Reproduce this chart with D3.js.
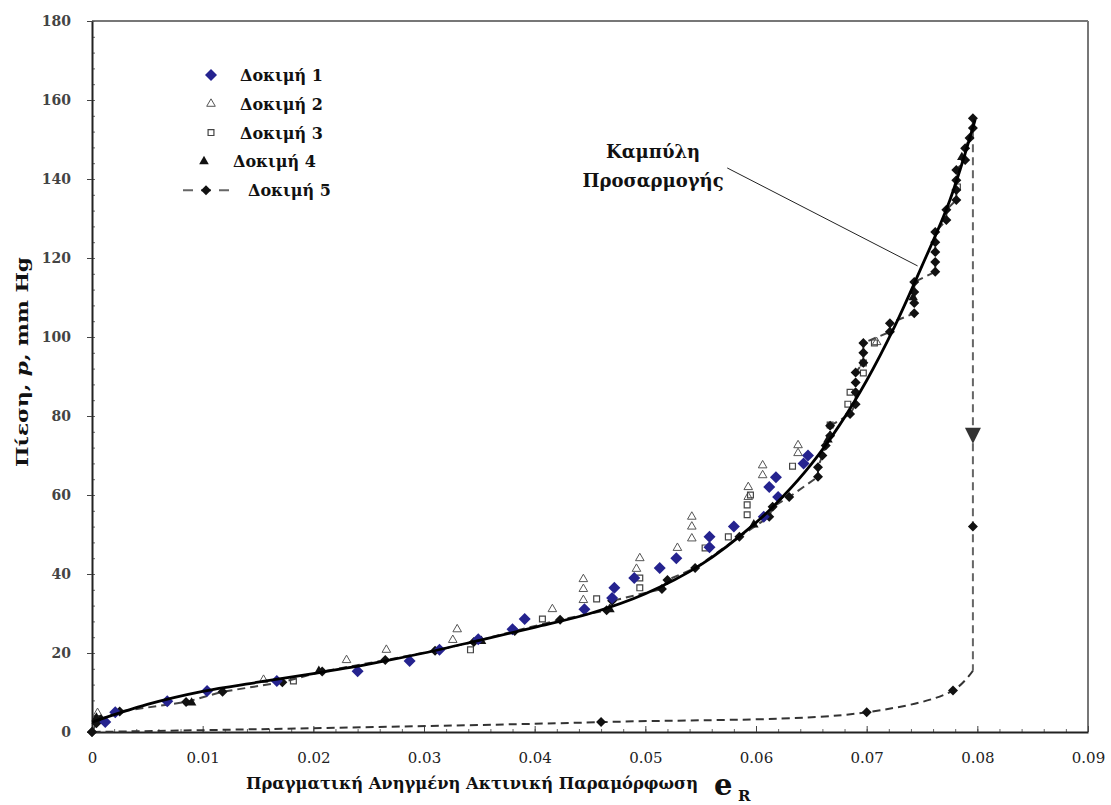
<!DOCTYPE html>
<html>
<head>
<meta charset="utf-8">
<script src="https://cdn.jsdelivr.net/npm/d3@7"></script>
<style>
  body { margin: 0; background: #fff; }
  svg { display: block; }
</style>
</head>
<body>
<div class="chart"></div>
<script>
// Data (strain e_R, pressure p in mm Hg).
let xTicks = [0, 0.01, 0.02, 0.03, 0.04, 0.05, 0.06, 0.07, 0.08, 0.09];
let xTickLabels = ['0', '0.01', '0.02', '0.03', '0.04', '0.05', '0.06', '0.07', '0.08', '0.09'];
let yTicks = [0, 20, 40, 60, 80, 100, 120, 140, 160, 180];

// Fitted curve.
let fitE = [0, 0.005, 0.01, 0.015, 0.02, 0.025, 0.03, 0.035, 0.04, 0.045, 0.05, 0.055, 0.06, 0.0625, 0.065, 0.0675, 0.07, 0.0725, 0.075, 0.0775, 0.0798];
let fitP = [2.5, 7, 10.3, 12.6, 14.8, 17.2, 20, 23.2, 26.5, 30, 35, 42.3, 53, 59.8, 67.8, 77.5, 89, 102.5, 118, 134.5, 155];

let test1 = [[0.0012, 2.5], [0.0021, 5], [0.0068, 7.8], [0.0104, 10.4], [0.0167, 12.9], [0.024, 15.4],
    [0.0287, 18], [0.0314, 20.8], [0.0349, 23.5], [0.038, 26], [0.0391, 28.6], [0.0445, 31.1],
    [0.047, 33.9], [0.0472, 36.5], [0.049, 39], [0.0513, 41.5], [0.0528, 44], [0.0558, 46.8],
    [0.0558, 49.4], [0.058, 52], [0.0607, 54.5], [0.0612, 62], [0.062, 59.5], [0.0618, 64.5],
    [0.0643, 68], [0.0647, 70]];

let test2 = [[0.0005, 4.8], [0.0155, 13.2], [0.023, 18.2], [0.0266, 20.8], [0.0326, 23.3], [0.033, 26],
    [0.0416, 31.1], [0.0444, 33.4], [0.0444, 36.2], [0.0444, 38.7], [0.0492, 41.3], [0.0495, 44],
    [0.0529, 46.6], [0.0542, 49], [0.0542, 52], [0.0542, 54.5], [0.0593, 59.5], [0.0593, 62],
    [0.0606, 65], [0.0606, 67.5], [0.0638, 70.6], [0.0638, 72.6], [0.0709, 98.7]];

let test3 = [[0.0182, 12.9], [0.0342, 20.8], [0.0407, 28.6], [0.0456, 33.7], [0.0495, 36.5], [0.0495, 39],
    [0.0554, 46.6], [0.0575, 49.4], [0.0592, 55], [0.0592, 57.5], [0.0595, 60], [0.0633, 67.3],
    [0.0667, 77.7], [0.0683, 83], [0.0685, 86], [0.0697, 90.9], [0.0697, 93.4], [0.0707, 98.5],
    [0.0782, 138]];

let test4 = [[0.0004, 3.6], [0.009, 7.4], [0.0205, 15.4], [0.0352, 23], [0.0468, 31], [0.0598, 52.5],
    [0.0665, 74], [0.0742, 110], [0.0786, 145.5]];

// Test 5: loading up to the peak, sudden drop, then unloading back to zero.
let test5Load = [[0, 0], [0.0004, 2.2], [0.0008, 3.2], [0.0025, 5.2], [0.0085, 7.6], [0.0118, 10.2],
    [0.0172, 12.6], [0.0208, 15.3], [0.0265, 18.2], [0.031, 20.6], [0.0345, 22.8], [0.0382, 25.6],
    [0.0423, 28.4], [0.0465, 30.8], [0.047, 33.2], [0.0515, 36.2], [0.052, 38.5], [0.0545, 41.5],
    [0.0585, 49.4], [0.0612, 54.5], [0.0615, 57], [0.063, 59.5], [0.0656, 64.6], [0.0656, 67],
    [0.066, 70], [0.0663, 72.5], [0.0667, 75], [0.0667, 77.5], [0.0685, 80.5], [0.069, 83],
    [0.069, 86], [0.069, 88.5], [0.069, 91], [0.0697, 93.5], [0.0697, 96], [0.0697, 98.5],
    [0.0721, 101.3], [0.0721, 103.5], [0.0743, 106], [0.0743, 108.6], [0.0743, 111.4], [0.0743, 113.9],
    [0.0762, 116.5], [0.0762, 119], [0.0762, 121.5], [0.0762, 124], [0.0762, 126.6], [0.0772, 129.6],
    [0.0772, 132.2], [0.0781, 134.7], [0.0781, 137.2], [0.0781, 139.7], [0.0781, 142.3], [0.0789, 144.8],
    [0.0789, 147.8], [0.0793, 150.4], [0.0796, 152.9], [0.0796, 155.4]];
let test5Drop = [[0.0796, 155.4], [0.0796, 52], [0.0796, 15.5]];
let test5Unload = [[0.0796, 15.5], [0.0778, 10.5], [0.070, 5], [0.046, 2.5], [0, 0]];
let arrowAt = [0.0796, 75];

let legendNames = ['Δοκιμή 1', 'Δοκιμή 2', 'Δοκιμή 3', 'Δοκιμή 4', 'Δοκιμή 5'];
let fitLabel = ['Καμπύλη', 'Προσαρμογής'];

// Build constants.
let width = 1111,
    height = 805,
    blue = '#25238f',
    serif = 'DejaVu Serif';

let svg = d3.select('.chart')
    .append('svg')
        .attr('width', width)
        .attr('height', height)
        .attr('font-family', serif);

let x = d3.scaleLinear().domain([0, 0.09]).range([92, 1088]);
let y = d3.scaleLinear().domain([0, 180]).range([732, 21]);

// Frame.
svg.append('line').attr('x1', 92).attr('x2', 1088).attr('y1', 21).attr('y2', 21)
    .attr('stroke', '#777').attr('stroke-width', 2);
svg.append('line').attr('x1', 1088).attr('x2', 1088).attr('y1', 21).attr('y2', 732)
    .attr('stroke', '#777').attr('stroke-width', 2);

// Minor ticks.
let minorX = d3.range(0, 0.0901, 0.002);
let minorY = d3.range(0, 180.1, 4);
svg.append('g')
    .attr('transform', 'translate(0,732)')
    .call(d3.axisBottom(x).tickValues(minorX).tickSize(-3).tickFormat(''))
    .call(g => g.select('.domain').remove())
    .selectAll('line').attr('stroke', '#666');
svg.append('g')
    .attr('transform', 'translate(92,0)')
    .call(d3.axisLeft(y).tickValues(minorY).tickSize(-3).tickFormat(''))
    .call(g => g.select('.domain').remove())
    .selectAll('line').attr('stroke', '#666');

// Major axes.
let xAxis = svg.append('g')
    .attr('transform', 'translate(0,732)')
    .call(d3.axisBottom(x).tickValues(xTicks).tickSizeInner(-6).tickSizeOuter(0).tickPadding(20)
        .tickFormat((d, i) => xTickLabels[i]));
xAxis.attr('font-family', serif);
xAxis.select('.domain').attr('stroke', '#222').attr('stroke-width', 2);
xAxis.selectAll('.tick line').attr('stroke', '#444');
xAxis.selectAll('.tick text').attr('font-size', 15).attr('fill', '#222');

let yAxis = svg.append('g')
    .attr('transform', 'translate(92,0)')
    .call(d3.axisLeft(y).tickValues(yTicks).tickSizeInner(5).tickSizeOuter(0).tickPadding(16));
yAxis.attr('font-family', serif);
yAxis.select('.domain').attr('stroke', '#222').attr('stroke-width', 2);
yAxis.selectAll('.tick line').attr('stroke', '#444');
yAxis.selectAll('.tick text').attr('font-size', 14).attr('font-weight', 'bold').attr('fill', '#444');

// Test 5 dashed path.
let px = d => x(d[0]), py = d => y(d[1]);
let dash = (data, curve, color) => svg.append('path')
    .datum(data)
    .attr('d', d3.line().x(px).y(py).curve(curve))
    .attr('fill', 'none')
    .attr('stroke', color)
    .attr('stroke-width', 2)
    .attr('stroke-dasharray', '8,5');
dash(test5Load, d3.curveLinear, '#444');
dash(test5Drop, d3.curveLinear, '#666');
dash(test5Unload, d3.curveCatmullRom.alpha(0.5), '#333');

// Arrow on the drop.
let ax = x(arrowAt[0]), ay = y(arrowAt[1]);
svg.append('path')
    .attr('d', `M${ax - 8},${ay - 8}L${ax + 8},${ay - 8}L${ax},${ay + 8}Z`)
    .attr('fill', '#333');

// Markers.
let sym = (type, size) => d3.symbol().type(type).size(size)();
let diamond = size => sym(d3.symbolSquare, size);

function drawMarkers(data, path, rot, fill, stroke, sw) {
    svg.append('g')
        .selectAll('path')
        .data(data)
        .join('path')
            .attr('d', path)
            .attr('transform', d => `translate(${px(d)},${py(d)}) rotate(${rot})`)
            .attr('fill', fill)
            .attr('stroke', stroke)
            .attr('stroke-width', sw);
}

let markerSpec = [
    [diamond(72), 45, blue, 'none', 0],
    [sym(d3.symbolTriangle, 32), 0, 'none', '#555', 1],
    [sym(d3.symbolSquare, 34), 0, 'none', '#444', 1.2],
    [sym(d3.symbolTriangle, 40), 0, '#111', 'none', 0],
    [diamond(50), 45, '#111', 'none', 0]
];

drawMarkers(test2, ...markerSpec[1]);
drawMarkers(test3, ...markerSpec[2]);
drawMarkers(test5Load.concat(test5Unload.slice(1), [test5Drop[1]]), ...markerSpec[4]);
drawMarkers(test4, ...markerSpec[3]);
drawMarkers(test1, ...markerSpec[0]);

// Fitted curve.
let fitLine = d3.line()
    .x((d, i) => x(fitE[i]))
    .y(d => y(d))
    .curve(d3.curveCatmullRom);
svg.append('path')
    .datum(fitP)
    .attr('d', fitLine)
    .attr('fill', 'none')
    .attr('stroke', '#000')
    .attr('stroke-width', 2.8);

// Annotation.
svg.append('line')
    .attr('x1', x(0.0574)).attr('y1', y(142.8))
    .attr('x2', x(0.0746)).attr('y2', y(118))
    .attr('stroke', '#222').attr('stroke-width', 1);
svg.selectAll('.fitlbl')
    .data(fitLabel)
    .join('text')
        .attr('class', 'fitlbl')
        .attr('x', x(0.0507))
        .attr('y', (d, i) => 158 + i * 29)
        .attr('text-anchor', 'middle')
        .attr('font-size', 18)
        .attr('font-weight', 'bold')
        .attr('fill', '#111')
        .text(d => d);

// Legend.
let legendRows = [
    {mx: 211, tx: 240}, {mx: 211, tx: 240}, {mx: 211, tx: 240}, {mx: 204, tx: 233}, {mx: 206, tx: 248}
];
let legend = svg.append('g');
legendNames.forEach((name, i) => {
    let cy = 75 + i * 28.8;
    let r = legendRows[i];
    let s = markerSpec[i];
    if (i === 4) {
        legend.append('line')
            .attr('x1', 183).attr('x2', 232).attr('y1', cy).attr('y2', cy)
            .attr('stroke', '#666').attr('stroke-width', 2).attr('stroke-dasharray', '10,8');
    }
    legend.append('path')
        .attr('d', s[0])
        .attr('transform', `translate(${r.mx},${cy}) rotate(${s[1]})`)
        .attr('fill', s[2]).attr('stroke', s[3]).attr('stroke-width', s[4]);
    legend.append('text')
        .attr('x', r.tx)
        .attr('y', cy + 6)
        .attr('font-size', 16)
        .attr('font-weight', 'bold')
        .attr('fill', '#111')
        .text(name);
});

// Axis titles.
svg.append('text')
    .attr('transform', 'translate(28,362) rotate(-90)')
    .attr('text-anchor', 'middle')
    .attr('font-size', 17)
    .attr('font-weight', 'bold')
    .attr('fill', '#111')
    .attr('textLength', 210)
    .attr('lengthAdjust', 'spacingAndGlyphs')
    .html('Πίεση, <tspan font-style="italic">p</tspan>, mm Hg');

svg.append('text')
    .attr('x', 246)
    .attr('y', 789)
    .attr('font-size', 16)
    .attr('font-weight', 'bold')
    .attr('fill', '#111')
    .attr('textLength', 452)
    .attr('lengthAdjust', 'spacingAndGlyphs')
    .text('Πραγματική Ανηγμένη Ακτινική Παραμόρφωση');
svg.append('text')
    .attr('x', 714)
    .attr('y', 795)
    .attr('font-size', 29)
    .attr('font-weight', 'bold')
    .attr('fill', '#111')
    .text('e');
svg.append('text')
    .attr('x', 738)
    .attr('y', 801)
    .attr('font-size', 15)
    .attr('font-weight', 'bold')
    .attr('fill', '#111')
    .text('R');
</script>
</body>
</html>
